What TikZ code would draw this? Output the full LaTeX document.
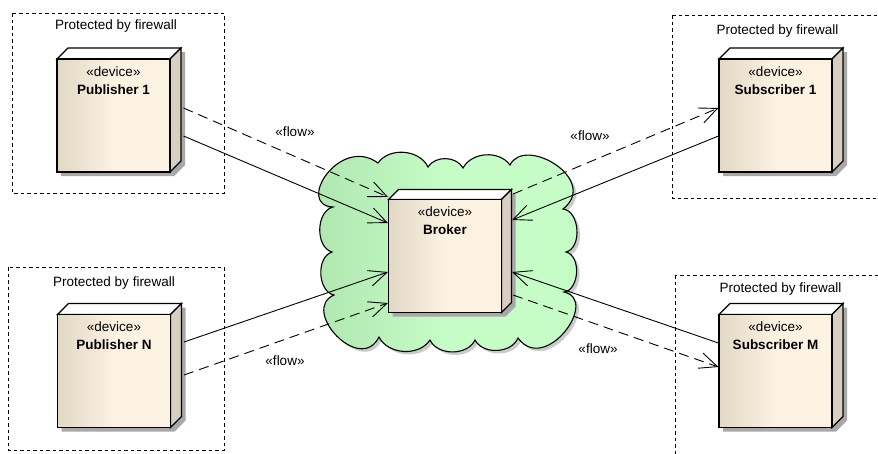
\documentclass[tikz,border=0pt]{standalone}
\usepackage{fontspec}
\setmainfont{Liberation Sans}
\usetikzlibrary{arrows.meta,calc}

\definecolor{cloudL}{RGB}{172,228,172}
\definecolor{cloudR}{RGB}{198,252,198}
\definecolor{devL}{RGB}{226,216,198}
\definecolor{devR}{RGB}{251,242,226}
\definecolor{devSide}{RGB}{216,207,192}
\definecolor{dropshade}{RGB}{168,168,168}

\tikzset{
  frame/.style={draw, line width=0.8pt, dash pattern=on 3.5pt off 3pt},
  fwtext/.style={inner sep=0pt},
  devedge/.style={draw, line width=1.1pt, line join=miter},
  devfront/.style={draw, line width=1.1pt, left color=devL, right color=devR, middle color=devR,
    minimum width=113pt, minimum height=113pt, inner sep=0pt},
  devshadow/.style={fill=dropshade},
  stereo/.style={inner sep=0pt},
  devname/.style={inner sep=0pt, font=\fontsize{13.5}{16}\selectfont\bfseries},
  flowlabel/.style={inner sep=0pt},
  conn/.style={line width=0.9pt, -{Straight Barb[length=18pt,width=16pt]}},
  solidflow/.style={conn},
  dashflow/.style={conn, dash pattern=on 10pt off 6pt},
}

% device node: name, centre x, centre y, title, depth of the 3D faces
\newcommand\devicenode[5]{%
  \fill[devshadow, shift={(4,4)}]
    (#2-56.5,#3-56.5) -- (#2-56.5+#5,#3-56.5-#5) -- (#2+56.5+#5,#3-56.5-#5)
    -- (#2+56.5+#5,#3+56.5-#5) -- (#2+56.5,#3+56.5) -- (#2-56.5,#3+56.5) -- cycle;
  \filldraw[devedge, fill=white]
    (#2-56.5,#3-56.5) -- (#2-56.5+#5,#3-56.5-#5) -- (#2+56.5+#5,#3-56.5-#5)
    -- (#2+56.5,#3-56.5) -- cycle;
  \filldraw[devedge, fill=devSide]
    (#2+56.5,#3-56.5) -- (#2+56.5+#5,#3-56.5-#5) -- (#2+56.5+#5,#3+56.5-#5)
    -- (#2+56.5,#3+56.5) -- cycle;
  \node[devfront] (#1) at (#2,#3) {};
  \node[stereo] (#1-stereo) at ($(#1.north)+(0,13)$) {«device»};
  \node[devname] (#1-name) at ($(#1.north)+(0,31)$) {#4};
}

% outline of the network cloud
\def\cloudoutline{(333,207) .. controls (295,205) and (340,135) .. (378,163)
  to[bend left=60] (428,167) to[bend left=60] (463,168) to[bend left=58] (510,165)
  .. controls (525,135) and (600,180) .. (563,209)
  to[bend left=80] (566,252) to[bend left=80] (564,292)
  .. controls (600,300) and (545,375) .. (518,338)
  to[bend left=65] (475,340) to[bend left=65] (430,340) to[bend left=60] (379,337)
  .. controls (360,375) and (300,310) .. (334,295)
  to[bend left=75] (332,252) to[bend left=75] (333,207) -- cycle}

\begin{document}
\begin{tikzpicture}[x=1pt,y=-1pt,font=\fontsize{13.5}{16}\selectfont]
\useasboundingbox (0,0) rectangle (878,453);

% firewall boundaries
\draw[frame] (12,13) rectangle (224,193);
\node[fwtext] (fwP1) at (116,26) {Protected by firewall};
\draw[frame] (8,267) rectangle (224,450);
\node[fwtext] (fwPN) at (114,283) {Protected by firewall};
\draw[frame] (672,15) rectangle (884,198);
\node[fwtext] (fwS1) at (777.5,31) {Protected by firewall};
\draw[frame] (675,275) rectangle (887,480);
\node[fwtext] (fwSM) at (780.5,289) {Protected by firewall};

% cloud with its drop shadow
\fill[dropshade!60, shift={(3,3)}] \cloudoutline;
\draw[line width=1.1pt, left color=cloudL, right color=cloudR, middle color=cloudR] \cloudoutline;

% devices
\devicenode{pub1}{113.5}{115.5}{Publisher 1}{11}
\devicenode{pubN}{114}{371}{Publisher N}{11}
\devicenode{sub1}{775.5}{115.5}{Subscriber 1}{11}
\devicenode{subM}{775.5}{371}{Subscriber M}{11}
\devicenode{broker}{445}{256}{Broker}{10}

% connections
\draw[solidflow] ($(pub1.east)+(13,20.5)$) -- ($(broker.west)+(0,-33)$);
\draw[dashflow]  ($(pub1.east)+(13,-7.5)$) -- ($(broker.north west)+(0,-2)$);
\draw[solidflow] ($(pubN.east)+(13,-29)$) -- ($(broker.west)+(0,16)$);
\draw[dashflow]  ($(pubN.east)+(13,4)$) -- ($(broker.west)+(0,47)$);
\draw[solidflow] ($(sub1.west)+(0,20.5)$) -- ($(broker.east)+(10,-36)$);
\draw[dashflow]  ($(broker.east)+(11,-62)$) -- ($(sub1.west)+(0,-7.5)$);
\draw[solidflow] ($(subM.west)+(0,-28)$) -- ($(broker.east)+(10,16)$);
\draw[dashflow]  ($(broker.east)+(11,39)$) -- ($(subM.west)+(0,-4)$);

% flow labels
\node[flowlabel] (lP1) at (295,132) {«flow»};
\node[flowlabel] (lPN) at (285,361) {«flow»};
\node[flowlabel] (lS1) at (590,136) {«flow»};
\node[flowlabel] (lSM) at (598,349) {«flow»};
\end{tikzpicture}
\end{document}
